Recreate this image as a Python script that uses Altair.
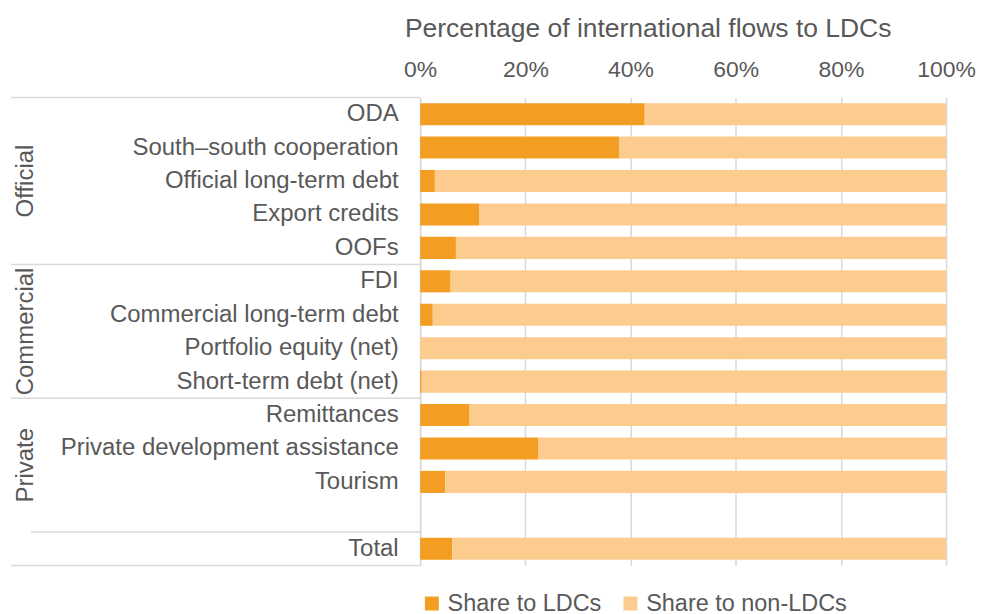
import altair as alt
import pandas as pd

categories = ["ODA", "South–south cooperation", "Official long-term debt", "Export credits", "OOFs",
              "FDI", "Commercial long-term debt", "Portfolio equity (net)", "Short-term debt (net)",
              "Remittances", "Private development assistance", "Tourism", " ", "Total"]
ldc_share = [42.7, 37.9, 2.8, 11.2, 6.8, 5.8, 2.4, 0.0, 0.3, 9.4, 22.5, 4.8, None, 6.1]
series = ["Share to LDCs", "Share to non-LDCs"]
colors = ["#F49D23", "#FCCB8E"]
x_ticks = [0, 20, 40, 60, 80, 100]

group_names = ["Official", "Commercial", "Private"]
group_top_rows = ["ODA", "FDI", "Remittances"]

FONT = "Liberation Sans"
TXT = "#595959"
GRID = "#d9d9d9"

rows = []
for c, v in zip(categories, ldc_share):
    if v is None:
        continue
    rows.append({"cat": c, "series": series[0], "value": v, "ord": 0})
    rows.append({"cat": c, "series": series[1], "value": 100 - v, "ord": 1})
df = pd.DataFrame(rows)

yscale = alt.Scale(domain=categories, paddingInner=0, paddingOuter=0)

bars = alt.Chart(df).mark_bar(height={"band": 0.66}).encode(
    y=alt.Y("cat:N", scale=yscale, title=None,
            axis=alt.Axis(labelFontSize=24, labelColor=TXT, labelFont=FONT, ticks=False,
                          domain=True, domainColor=GRID, domainWidth=1.5, labelPadding=22,
                          labelLimit=500)),
    x=alt.X("value:Q", stack="zero", scale=alt.Scale(domain=[0, 100], nice=False),
            title="Percentage of international flows to LDCs",
            axis=alt.Axis(orient="top", values=x_ticks, labelExpr="datum.value + '%'",
                          labelFontSize=23, labelColor=TXT, labelFont=FONT, ticks=False,
                          labelFlush=False,
                          domain=False, grid=True, gridColor=GRID, gridWidth=1.5,
                          labelPadding=16, titleFontSize=26.5, titleFontWeight="normal",
                          titleColor=TXT, titleFont=FONT, titlePadding=16,
                          titleX=228, titleAlign="center")),
    color=alt.Color("series:N", scale=alt.Scale(domain=series, range=colors),
                    legend=alt.Legend(orient="none", legendX=0, legendY=495, direction="horizontal",
                                      title=None, symbolType="square", symbolSize=196,
                                      symbolStrokeWidth=0, labelFontSize=23.5, labelColor=TXT,
                                      labelFont=FONT, columnPadding=17, labelOffset=4,
                                      labelLimit=500)),
    order=alt.Order("ord:Q"),
)

sep_df = pd.DataFrame({"cat": group_top_rows})
seps = alt.Chart(sep_df).mark_rule(color=GRID, strokeWidth=1.5).encode(
    y=alt.Y("cat:N", bandPosition=0, title=None),
    x=alt.value(-410), x2=alt.value(0),
)
total_df = pd.DataFrame({"cat": ["Total"]})
total_top = alt.Chart(total_df).mark_rule(color=GRID, strokeWidth=1.5).encode(
    y=alt.Y("cat:N", bandPosition=0, title=None),
    x=alt.value(-390), x2=alt.value(0),
)
bottom = alt.Chart(total_df).mark_rule(color=GRID, strokeWidth=1.5).encode(
    y=alt.Y("cat:N", bandPosition=1, title=None),
    x=alt.value(-410), x2=alt.value(0),
)

off_df = pd.DataFrame({"cat": ["Official long-term debt"], "group": [group_names[0]]})
other_df = pd.DataFrame({"cat": ["Commercial long-term debt", "Private development assistance"],
                         "group": group_names[1:]})
lab_style = dict(angle=270, fontSize=24, color=TXT, font=FONT, align="center", baseline="middle")
g1 = alt.Chart(off_df).mark_text(**lab_style).encode(
    y=alt.Y("cat:N", bandPosition=0.5, title=None), x=alt.value(-395), text="group:N")
g2 = alt.Chart(other_df).mark_text(**lab_style).encode(
    y=alt.Y("cat:N", bandPosition=1, title=None), x=alt.value(-395), text="group:N")

chart = alt.layer(bars, seps, total_top, bottom, g1, g2).properties(
    width=527, height=469,
    padding={"left": 2, "top": 7, "right": 0, "bottom": 0},
).configure_view(stroke=None)

chart.save("out.html", embed_options={"renderer": "svg", "actions": False})
